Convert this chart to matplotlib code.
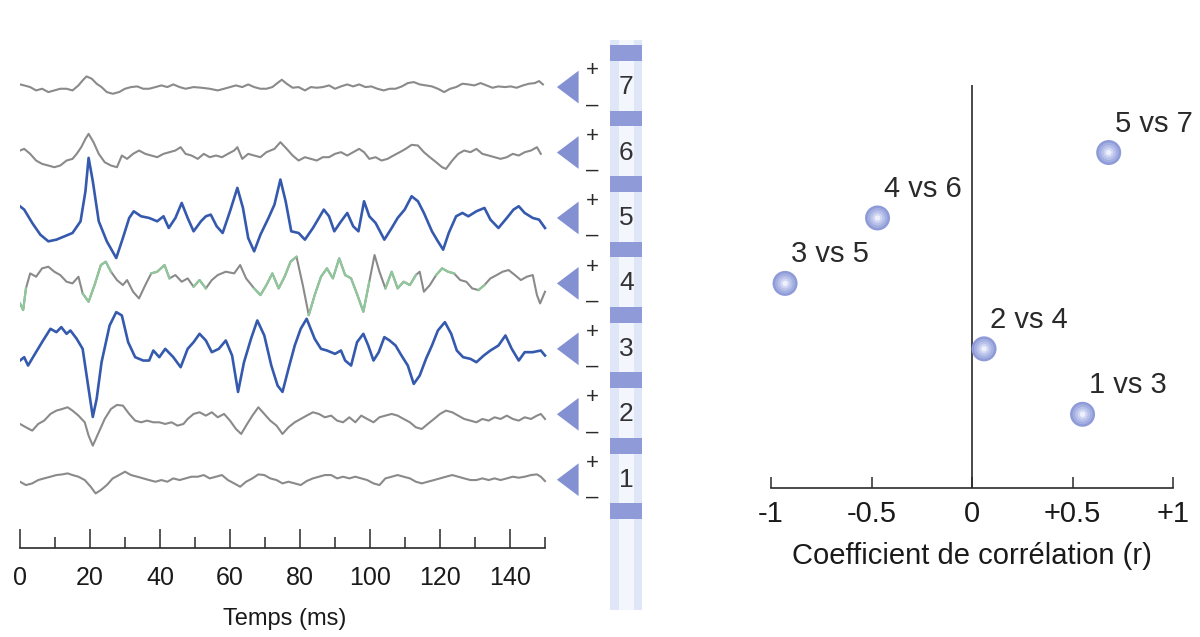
import matplotlib
matplotlib.use("Agg")
import matplotlib.pyplot as plt
import numpy as np
from matplotlib.patches import Polygon, Rectangle

plt.rcParams['font.family'] = ['Liberation Sans', 'DejaVu Sans']

# enregistrements : (temps en ms, amplitude), amplitude positive vers le haut
voie7 = [(0, 8), (1.2, 5), (2.9, 0), (4.6, -10), (6.3, -5), (8.1, -15), (9.8, -10), (11.5, -5),
         (13.3, -5), (15.0, -10), (16.7, 5), (17.9, 20), (19.0, 32), (20.5, 25), (21.9, 10),
         (23.3, 0), (24.8, -15), (26.5, -20), (28.3, -15), (30.0, -5), (31.7, 0), (33.5, 2),
         (35.2, -5), (36.9, -5), (38.7, 0), (40.4, 5), (42.1, 0), (43.8, 8), (45.6, 0), (47.3, -5),
         (49.6, 0), (51.9, -2), (54.2, -5), (56.5, -10), (58.3, -5), (60.0, 0), (61.7, 5), (63.5, 0),
         (65.2, 8), (66.9, 0), (68.7, -5), (70.4, -5), (72.1, 0), (73.3, 10), (74.8, 22), (76.2, 10),
         (77.9, -2), (79.6, 0), (81.4, -10), (83.1, 0), (84.8, -2), (86.5, 0), (88.3, 5), (90.0, -5),
         (91.7, 2), (93.5, 8), (95.2, 2), (96.9, 8), (98.7, 0), (100.4, 2), (102.1, -5), (103.9, -10),
         (105.6, -5), (107.3, -5), (109.1, 2), (110.8, 12), (112.5, 15), (114.2, 8), (116.0, 5),
         (117.7, 2), (119.4, -5), (121.2, -15), (122.9, -5), (124.6, 0), (126.4, 10), (128.1, 8),
         (129.8, 5), (131.6, 12), (133.3, 5), (135.0, -2), (136.7, 2), (138.5, 0), (140.2, 2),
         (141.9, -2), (143.7, 5), (145.4, 10), (147.1, 12), (148.3, 18), (149.4, 8)]

voie6 = [(0, 6), (1.2, 11), (2.9, -4), (4.6, -24), (6.3, -34), (8.1, -39), (9.8, -44), (11.5, -39),
         (13.3, -24), (15.0, -19), (16.2, -4), (17.5, 16), (18.7, 41), (19.6, 56), (21.0, 31),
         (22.5, -4), (24.2, -29), (26.0, -39), (27.7, -44), (29.1, -9), (30.6, -19), (32.3, -4),
         (34.0, 6), (35.8, -4), (37.5, -9), (39.2, -14), (41.0, -4), (42.7, 1), (44.4, 6), (45.9, 16),
         (47.3, -4), (49.0, -9), (50.8, -19), (52.5, -4), (54.2, -14), (56.0, -9), (57.7, -14),
         (59.4, -4), (61.2, 6), (62.1, 16), (63.5, -19), (65.2, -4), (66.9, -9), (68.7, -14),
         (70.4, 1), (72.7, 11), (74.4, 31), (76.2, 11), (77.9, -9), (79.6, -24), (81.4, -14),
         (83.1, -19), (84.8, -24), (86.5, -14), (88.3, -14), (90.0, -4), (91.7, 1), (93.5, -9),
         (95.2, 1), (96.9, 11), (98.3, 1), (99.8, -19), (101.6, -14), (103.3, -24), (105.0, -19),
         (106.7, -9), (108.5, 1), (110.2, 11), (111.9, 23), (113.7, 21), (115.4, 1), (117.1, -14),
         (118.9, -29), (120.6, -44), (121.7, -49), (123.5, -24), (125.2, -4), (126.9, 6), (128.7, 1),
         (130.4, 11), (132.1, -4), (133.9, -9), (135.6, -14), (137.3, -19), (139.1, -14), (140.8, -4),
         (142.5, -9), (144.2, 1), (146.0, 6), (147.7, 16), (148.8, -4)]

voie5 = [(0, 35), (1.2, 25), (3.5, -15), (5.8, -50), (8.1, -70), (10.4, -65), (12.7, -55), (15.0, -45),
         (17.3, -10), (18.7, 80), (19.6, 180), (20.8, 110), (22.5, -10), (24.8, -70), (27.5, -120),
         (29.4, -60), (31.2, 0), (32.5, 20), (34.6, 5), (36.9, 0), (39.2, -10), (41.0, 5), (42.5, -30),
         (44.4, 0), (46.2, 45), (47.9, 0), (49.6, -40), (51.7, -10), (53.1, 5), (54.5, 10), (56.2, -25),
         (57.9, -45), (60.0, 20), (62.1, 90), (63.7, 30), (65.2, -60), (66.9, -100), (68.7, -50),
         (71.0, 0), (72.7, 40), (74.4, 115), (75.9, 50), (77.5, -40), (79.6, -45), (81.4, -65),
         (83.7, -30), (85.4, 0), (86.8, 25), (88.3, 5), (89.8, -40), (91.4, -15), (93.5, 15),
         (95.2, -25), (96.7, -40), (98.3, 50), (99.8, 5), (101.6, -15), (104.1, -65), (106.2, -30),
         (107.9, 0), (109.9, 25), (111.9, 65), (113.7, 50), (115.4, 15), (117.7, -40), (119.4, -70),
         (120.9, -95), (122.5, -45), (124.6, 5), (126.4, 15), (128.1, 5), (130.4, 20), (132.7, 30),
         (134.4, -5), (136.7, -30), (139.1, 0), (141.0, 25), (142.5, 35), (144.2, 15), (146.5, 0),
         (148.3, -5), (150.0, -30)]

voie4 = [(0, -60), (0.9, -80), (1.7, -15), (2.9, 30), (4.6, 20), (6.3, 45), (8.1, 50), (9.8, 35),
         (11.5, 25), (13.3, 5), (15.0, 0), (16.7, 20), (17.9, -30), (19.6, -55), (21.3, -5), (23.1, 55),
         (24.5, 65), (26.0, 35), (27.7, 10), (29.4, -5), (30.6, 10), (32.3, -25), (34.0, -45),
         (35.8, -5), (37.5, 30), (39.2, 35), (41.3, 55), (42.7, 15), (44.4, 25), (46.2, 5), (47.9, 15),
         (49.6, -10), (51.3, 10), (53.1, -15), (54.8, 10), (56.5, 25), (58.8, 35), (61.2, 30),
         (62.9, 55), (64.6, 15), (66.9, -15), (68.7, -35), (70.4, -5), (72.1, 30), (73.9, -15),
         (75.6, 20), (77.3, 65), (79.0, 80), (80.8, -5), (82.5, -95), (84.2, -35), (86.0, 20),
         (87.7, 45), (89.4, 15), (91.2, 75), (92.9, 25), (94.6, 15), (96.4, -35), (98.1, -85),
         (99.8, 5), (101.3, 85), (102.7, 35), (104.4, -15), (106.2, 35), (107.9, -15), (109.6, 5),
         (111.4, -5), (113.1, 25), (114.2, 35), (115.4, -25), (117.1, -5), (118.9, 25), (120.6, 45),
         (122.3, 35), (124.0, 30), (125.8, 10), (127.5, 5), (129.2, -15), (131.0, -20), (132.7, -5),
         (134.4, 15), (136.2, 25), (137.9, 35), (139.6, 40), (141.4, 25), (143.1, 10), (144.8, 20),
         (146.5, 25), (147.7, -35), (148.6, -60), (150.0, -25)]

voie3 = [(0, -35), (1.2, -25), (2.3, -50), (4.0, -20), (6.3, 20), (8.7, 60), (10.4, 50), (11.8, 65),
         (13.3, 45), (14.4, 55), (16.2, 30), (17.9, 0), (19.6, -120), (20.8, -204), (21.9, -150),
         (23.3, -40), (25.6, 70), (27.5, 110), (29.1, 100), (30.9, 20), (32.9, -25), (35.2, -35),
         (36.9, -35), (38.1, -5), (39.8, -25), (41.5, 0), (43.8, -25), (45.9, -55), (47.9, 0),
         (49.6, 20), (51.3, 45), (53.1, 25), (54.8, -10), (56.8, 0), (58.8, 25), (60.6, -20),
         (62.3, -129), (64.0, -40), (66.0, 30), (67.8, 85), (69.8, 40), (71.8, -50), (73.6, -110),
         (75.0, -129), (76.7, -60), (78.5, 10), (80.2, 60), (81.9, 90), (84.2, 30), (86.0, 0),
         (87.7, -5), (90.0, -15), (91.7, -5), (92.9, -35), (94.6, -50), (96.3, 20), (98.1, 45),
         (99.5, 10), (101.0, -35), (102.5, -10), (104.1, 35), (105.6, 25), (107.3, 10), (109.0, -20),
         (110.8, -50), (112.5, -105), (114.2, -80), (116.0, -30), (117.7, 10), (119.4, 55),
         (121.4, 80), (123.2, 45), (124.8, -5), (126.6, -25), (128.7, -30), (130.4, -40), (132.5, -20),
         (134.4, -5), (136.7, 10), (138.7, 40), (140.5, 0), (142.5, -35), (144.2, -10), (146.5, -10),
         (148.8, -5), (150.0, -20)]

voie2 = [(0, -29), (1.7, -39), (3.5, -49), (5.2, -29), (6.9, -19), (8.7, 1), (10.4, 11), (12.1, 16),
         (13.6, 21), (15.0, 11), (16.7, -4), (18.5, -24), (19.6, -64), (20.8, -94), (22.5, -54),
         (24.2, -14), (26.0, 16), (27.7, 28), (29.4, 26), (31.2, 1), (32.9, -19), (34.6, -24),
         (36.3, -19), (38.1, -24), (39.8, -24), (41.5, -29), (43.3, -24), (45.0, -34), (46.7, -29),
         (47.9, -14), (49.6, 1), (51.3, 6), (53.1, -4), (54.8, 6), (56.5, -9), (58.3, 1), (60.0, -19),
         (61.7, -44), (63.2, -59), (64.6, -34), (66.4, -4), (68.1, 21), (69.8, 1), (71.5, -19),
         (73.3, -34), (75.0, -59), (76.7, -39), (78.5, -24), (80.2, -14), (81.9, -4), (83.7, 6),
         (85.4, 1), (87.1, -9), (88.9, -4), (90.6, -19), (92.3, -24), (94.1, -9), (95.8, -24),
         (97.5, -4), (99.2, -14), (101.0, -24), (102.7, -9), (104.4, -4), (106.2, 1), (107.9, -4),
         (109.6, -14), (111.4, -24), (113.1, -39), (114.8, -44), (116.5, -29), (118.3, -14),
         (120.0, 1), (121.7, 11), (123.5, 6), (125.2, -4), (126.9, -14), (128.7, -19), (130.4, -24),
         (132.1, -14), (133.9, -19), (135.6, -9), (137.3, -14), (139.1, -4), (140.8, -14),
         (142.5, -19), (144.2, -9), (146.0, -14), (147.7, -4), (148.8, 1), (150.0, -14)]

voie1 = [(0, -6), (1.7, -16), (3.5, -11), (5.2, -1), (6.9, 4), (8.7, 9), (10.4, 14), (12.1, 16),
         (13.6, 19), (15.0, 14), (16.7, 9), (18.5, -1), (20.2, -21), (21.6, -41), (23.1, -31),
         (24.8, -16), (26.5, 4), (28.3, 14), (30.0, 24), (31.7, 14), (33.5, 9), (35.2, 4), (36.9, -1),
         (38.7, -6), (40.4, -1), (42.1, -6), (43.8, 4), (45.6, -1), (47.3, 4), (49.0, 9), (50.8, 9),
         (52.5, 14), (54.2, 4), (56.0, 9), (57.7, 14), (59.4, -1), (61.2, -11), (62.9, -21), (64.6, -6),
         (66.4, 4), (68.1, 16), (69.8, 14), (71.5, 4), (73.3, -1), (75.0, -11), (76.7, -6), (78.5, -11),
         (80.2, -16), (81.9, -4), (83.7, 4), (85.4, 9), (87.1, 14), (88.9, 14), (90.6, 4), (92.3, 9),
         (94.1, 4), (95.8, 9), (97.5, 4), (99.2, -1), (101.0, -11), (102.7, -16), (104.4, 4),
         (106.2, 9), (107.9, 14), (109.6, 9), (111.4, 4), (113.1, -6), (114.8, -11), (116.5, -6),
         (118.3, -1), (120.0, 4), (121.7, 9), (123.5, 14), (125.2, 9), (126.9, 4), (128.7, -1),
         (130.4, -1), (132.1, 4), (133.9, -1), (135.6, 4), (137.3, -1), (139.1, 4), (140.8, 9),
         (142.5, 6), (144.2, 9), (146.0, 14), (147.7, 16), (148.8, 9), (150.0, -4)]

voies = {7: voie7, 6: voie6, 5: voie5, 4: voie4, 3: voie3, 2: voie2, 1: voie1}
voies_bleues = [5, 3]
# passages verts de la voie 4 (ms)
vert_voie4 = [(0, 2.5), (17, 27), (36, 44), (49, 54), (66, 80), (82, 100), (104, 114), (118, 124), (131, 134)]

# coefficients de corrélation
paires = ['1 vs 3', '2 vs 4', '3 vs 5', '4 vs 6', '5 vs 7']
paire_ligne = [2, 3, 4, 5, 6]
r_paires = [0.55, 0.06, -0.93, -0.47, 0.68]

temps_ticks = [0, 20, 40, 60, 80, 100, 120, 140]
temps_mineurs = [10, 30, 50, 70, 90, 110, 130, 150]
r_ticks = [-1, -0.5, 0, 0.5, 1]
r_labels = ['-1', '-0.5', '0', '+0.5', '+1']

GRIS = '#8a8a8a'
BLEU = '#3459ad'
VERT = '#8fc79b'
VIOLET = '#8391d3'
NOIR = '#2a2a2a'

W, H = 1200, 637
ECHELLE = 1 / 196.0   # amplitude -> espacement des voies


def ligne(py):
    # position verticale en pixels -> numéro de voie
    return 4 + (283.4 - py) / 65.44


def cadre(x0, x1, y_haut, y_bas):
    return [x0 / W, (H - y_bas) / H, (x1 - x0) / W, (y_bas - y_haut) / H]


fig = plt.figure(figsize=(12, 6.37), dpi=100)

# ---------- enregistrements ----------
ax = fig.add_axes(cadre(20, 650, 30, 548))
ax.set_xlim(0, 180)
ax.set_ylim(ligne(548), ligne(30))

for ch, pts in voies.items():
    t, v = np.array(pts).T
    y = ch + v * ECHELLE
    col = BLEU if ch in voies_bleues else GRIS
    ax.plot(t, y, color=col, lw=1.9 if col == BLEU else 1.5, solid_joinstyle='round', zorder=3)
    if ch == 4:
        for a, b in vert_voie4:
            m = (t >= a - 0.01) & (t <= b + 0.01)
            ax.plot(t[m], y[m], color=VERT, lw=1.6, zorder=4)

# bande d'électrode
ax.add_patch(Rectangle((168.6, ligne(610)), 9.2, ligne(40) - ligne(610), facecolor='#dfe6f7',
                       edgecolor='none', clip_on=False, zorder=1))
ax.add_patch(Rectangle((171.0, ligne(610)), 4.4, ligne(40) - ligne(610), facecolor='#f3f6fc',
                       edgecolor='none', clip_on=False, zorder=1))
for k in range(8):
    ax.add_patch(Rectangle((168.6, k + 0.4), 9.2, 0.24, facecolor='#8e9bd8', edgecolor='none',
                           clip_on=False, zorder=2))

for ch in voies:
    ax.add_patch(Polygon([[153.4, ch], [159.6, ch + 0.25], [159.6, ch - 0.25]], closed=True,
                         facecolor=VIOLET, edgecolor='none', zorder=3))
    ax.text(163.6, ch + 0.25, '+', fontsize=16, ha='center', va='center', color=NOIR)
    ax.text(163.6, ch - 0.27, '–', fontsize=16, ha='center', va='center', color=NOIR)
    ax.text(173.2, ch, str(ch), fontsize=19, ha='center', va='center', color='#333333', zorder=4)

for s in ['top', 'left', 'right']:
    ax.spines[s].set_visible(False)
ax.spines['bottom'].set_bounds(0, 150)
ax.spines['bottom'].set_color(NOIR)
ax.spines['bottom'].set_linewidth(1.2)
ax.set_yticks([])
ax.set_xticks(temps_ticks)
ax.set_xticklabels([str(v) for v in temps_ticks])
ax.set_xticks(temps_mineurs, minor=True)
ax.tick_params(axis='x', which='major', direction='in', length=14, width=1.1, color=NOIR,
               labelsize=18, pad=13, labelcolor='#1a1a1a')
ax.tick_params(axis='x', which='minor', direction='in', length=8, width=1.1, color=NOIR)
ax.set_xlabel('Temps (ms)', fontsize=17, color='#1a1a1a')
ax.xaxis.set_label_coords(265 / 630, -0.115)

# ---------- corrélations ----------
ax2 = fig.add_axes(cadre(771, 1173, 85, 488))
ax2.set_xlim(-1, 1)
ax2.set_ylim(ligne(488), ligne(85))
ax2.axvline(0, color='#3a3a3a', lw=1.3, zorder=1)

tailles = [1.0, 0.8, 0.6, 0.4, 0.22]
teintes = ['#8f9bd8', '#a3aee1', '#b8c1ea', '#cfd5f2', '#eef0fb']
for f, c in zip(tailles, teintes):
    ax2.scatter(r_paires, paire_ligne, s=(18 * f) ** 2, color=c, edgecolors='none', zorder=3)

for nom, r, ch in zip(paires, r_paires, paire_ligne):
    ax2.annotate(nom, (r, ch), xytext=(6, 29), textcoords='offset pixels', fontsize=21,
                 ha='left', va='center', color=NOIR)

for s in ['top', 'left', 'right']:
    ax2.spines[s].set_visible(False)
ax2.spines['bottom'].set_color(NOIR)
ax2.spines['bottom'].set_linewidth(1.2)
ax2.set_yticks([])
ax2.set_xticks(r_ticks)
ax2.set_xticklabels(r_labels)
ax2.tick_params(axis='x', direction='in', length=8, width=1.1, color=NOIR, labelsize=21, pad=9,
                labelcolor='#1a1a1a')
ax2.set_xlabel('Coefficient de corrélation (r)', fontsize=21, labelpad=10, color='#1a1a1a')

fig.savefig('out.png', dpi=100)
